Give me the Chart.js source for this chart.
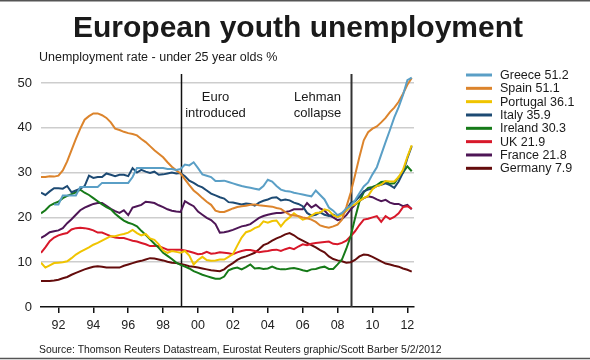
<!DOCTYPE html>
<html>
<head>
<meta charset="utf-8">
<script src="https://cdn.jsdelivr.net/npm/chart.js@4.4.1/dist/chart.umd.min.js"></script>
<style>
  html, body { margin: 0; padding: 0; background: #fff; }
  #wrap { width: 590px; height: 360px; }
</style>
</head>
<body>
<div id="wrap"><canvas id="youthChart" width="590" height="360"></canvas></div>
<script>
// quarterly readings, 1991 Q1 .. 2012 Q2
const quarters = [];
for (let q = 1991; q <= 2012.25; q += 0.25) quarters.push(q);

const countries = ['Greece', 'Spain', 'Portugal', 'Italy', 'Ireland', 'UK', 'France', 'Germany'];
const latest = [51.2, 51.1, 36.1, 35.9, 30.3, 21.9, 21.8, 7.9];

const greece = [
  null, null, null, 22.9,  22.9, 24.9, 24.9, 24.9,  24.9, 26.8, 26.8, 26.8,  26.8, 26.8, 27.7, 27.7,
  27.7, 27.7, 27.7, 27.7,  27.7, 29.0, 31.0, 31.0,  31.0, 31.0, 31.0, 31.0,  31.0, 30.8, 30.8, 30.6,
  30.8, 31.8, 31.6, 32.3,  31.0, 29.6, 29.3, 29.0,  28.1, 28.1, 28.2, 27.9,  27.6, 27.3, 27.0, 26.8,
  26.6, 26.4, 26.2, 27.0,  28.4, 28.0, 27.0, 26.2,  25.9, 25.8, 25.5, 25.3,  25.1, 24.9, 24.7, 26.0,
  25.0, 24.0, 22.2, 21.5,  20.5, 21.0, 22.0, 22.6,  23.8, 25.4, 26.9, 27.8,  29.6, 31.2, 34.0, 36.8,
  39.5, 42.3, 44.6, 47.3,  50.6, 51.2
];
const spain = [
  29.0, 29.0, 29.2, 29.1,  29.3, 30.5, 32.5, 35.0,  37.5, 39.8, 41.8, 42.6,  43.2, 43.2, 42.8, 42.2,
  41.2, 39.8, 39.5, 39.1,  38.8, 38.6, 38.3, 37.5,  36.8, 35.9, 35.0, 34.2,  33.4, 32.3, 31.3, 30.5,
  29.8, 28.5, 27.2, 26.0,  25.2, 24.3, 23.5, 22.8,  21.5, 21.2, 21.2, 21.6,  22.0, 22.3, 22.5, 22.6,
  22.8, 22.9, 22.7, 22.6,  22.5, 22.4, 22.1, 21.9,  21.2, 20.6, 20.4, 20.3,  20.0, 19.8, 19.5, 19.0,
  18.2, 17.9, 17.7, 18.0,  18.4, 19.5, 22.3, 25.5,  29.4, 33.5, 37.2, 39.0,  39.8, 40.3, 41.2, 42.2,
  43.5, 44.5, 45.8, 47.6,  49.6, 51.1
];
const portugal = [
  9.9, 8.8, 9.3, 9.8,  9.9, 10.0, 10.2, 10.9,  11.7, 12.3, 12.8, 13.3,  13.9, 14.3, 14.8, 15.3,
  15.8, 15.8, 16.1, 16.3,  16.6, 17.2, 16.5, 16.0,  16.3, 15.3, 15.0, 14.0,  12.6, 12.1, 12.5, 12.3,
  12.1, 12.5, 11.5, 9.5,  10.5, 11.2, 10.5, 10.3,  10.4, 10.6, 10.6, 11.2,  11.8, 13.7, 15.5, 16.7,
  17.0, 17.6, 18.0, 19.1,  18.8, 19.2, 19.3, 18.0,  19.2, 20.0, 20.9, 20.2,  19.5, 19.8, 20.4, 21.0,
  21.1, 21.8, 21.5, 20.5,  20.1, 20.5, 21.5, 22.5,  22.9, 23.7, 24.3, 24.8,  26.3, 27.0, 27.3, 28.1,
  28.0, 28.0, 29.0, 30.6,  33.5, 36.1
];
const italy = [
  25.5, 25.0, 25.8, 26.5,  26.5, 26.4, 27.0, 25.6,  26.0, 26.4, 27.0, 29.3,  28.8, 29.0, 29.0, 29.8,
  29.5, 29.2, 29.5, 29.5,  29.2, 31.0, 30.0, 30.6,  30.2, 29.9, 30.2, 29.5,  29.6, 29.8, 30.0, 29.8,
  29.9, 29.2, 28.2, 27.7,  27.1, 26.7, 26.0, 25.3,  24.9, 24.5, 24.2, 23.4,  23.3, 23.1, 22.9, 23.1,
  23.0, 22.6, 23.3, 23.7,  24.0, 24.4, 24.5, 23.8,  24.0, 23.8, 23.3, 23.0,  22.5, 21.0, 20.4, 20.6,
  21.1, 20.6, 20.3, 20.6,  20.1, 20.8, 21.6, 23.2,  23.6, 24.6, 25.8, 26.2,  26.5, 27.0, 27.3, 27.6,
  27.2, 26.6, 28.0, 30.0,  33.2, 35.9
];
const ireland = [
  20.9, 21.6, 22.6, 23.1,  23.5, 24.3, 24.8, 25.2,  25.6, 26.2, 25.5, 25.0,  24.3, 23.6, 22.9, 22.3,
  21.8, 20.8, 20.0, 19.3,  18.8, 18.5, 18.0, 17.0,  16.1, 15.1, 14.1, 13.2,  12.1, 11.4, 10.7, 9.9,
  9.4, 9.0, 8.6, 8.0,  7.6, 7.2, 6.9, 6.6,  6.3, 6.3, 6.8, 8.2,  8.6, 8.8, 8.4, 8.9,
  9.5, 8.6, 8.7, 8.5,  8.6, 9.0, 8.6, 8.4,  8.4, 8.6, 8.7, 8.5,  8.2, 8.0, 8.4, 8.5,
  8.8, 9.0, 8.5, 8.5,  9.5, 10.6, 13.0, 15.8,  19.8, 23.5, 25.6, 26.6,  26.8, 27.2, 27.9, 28.0,
  27.5, 27.6, 29.0, 30.0,  31.4, 30.3
];
const uk = [
  12.1, 13.3, 14.7, 15.5,  16.0, 16.3, 16.5, 17.3,  17.6, 17.7, 17.6, 17.4,  17.1, 16.6, 16.6, 16.2,
  15.8, 15.5, 15.4, 15.4,  15.1, 14.8, 14.6, 14.3,  14.0, 13.6, 13.6, 13.6,  13.2, 12.8, 12.8, 12.8,
  12.8, 12.6, 12.4, 12.1,  11.8, 11.9, 12.3, 11.9,  12.0, 12.2, 12.1, 12.0,  11.8, 12.2, 12.5, 12.7,
  12.7, 12.5, 12.2, 12.4,  12.5, 12.7, 12.8, 12.5,  12.9, 13.2, 12.9, 13.5,  14.0, 13.8, 14.1, 14.3,
  14.4, 14.5, 14.6, 14.1,  14.0, 14.3, 14.8, 15.8,  16.9, 18.3, 19.5, 19.7,  20.0, 20.3, 19.0, 20.3,
  19.6, 20.1, 20.9, 22.3,  22.5, 21.9
];
const france = [
  15.4, 16.0, 16.7, 16.9,  17.1, 17.6, 18.7, 19.6,  20.6, 21.6, 22.2, 22.6,  23.0, 23.2, 23.2, 22.6,
  21.9, 21.4, 21.0, 21.6,  20.5, 22.2, 22.5, 22.8,  23.5, 23.4, 23.2, 22.7,  22.3, 21.8, 21.5, 21.3,
  21.2, 23.6, 23.0, 22.5,  21.3, 20.6, 19.9, 19.4,  18.5, 16.6, 16.7, 16.9,  17.2, 17.6, 18.0, 18.2,
  18.5, 19.2, 19.9, 20.3,  20.6, 20.8, 21.0, 21.0,  21.2, 21.4, 21.8, 21.8,  21.8, 23.2, 22.2, 22.8,
  22.0, 21.5, 20.5, 20.0,  19.4, 19.6, 20.5, 21.8,  22.8, 23.7, 24.3, 24.7,  24.5, 24.0, 23.6, 23.9,
  23.3, 23.0, 23.0, 22.5,  22.8, 21.8
];
const germany = [
  5.8, 5.8, 5.8, 5.9,  6.1, 6.4, 6.7, 7.2,  7.6, 8.0, 8.4, 8.7,  9.0, 9.1, 9.0, 8.8,
  8.8, 8.8, 8.8, 9.2,  9.5, 9.8, 10.1, 10.3,  10.6, 10.9, 10.8, 10.6,  10.4, 10.1, 9.9, 9.8,
  9.6, 9.4, 9.1, 9.0,  8.8, 8.6, 8.4, 8.2,  8.1, 8.0, 8.4, 9.2,  9.8, 10.5, 11.0, 11.3,
  11.7, 12.1, 12.9, 13.8,  14.2, 14.8, 15.3, 15.7,  16.2, 16.5, 16.0, 15.3,  14.8, 14.3, 13.8, 13.3,
  12.7, 12.2, 11.3, 10.7,  10.4, 10.2, 9.9, 10.0,  10.5, 11.3, 11.7, 11.6,  11.2, 10.7, 10.2, 9.7,
  9.5, 9.2, 9.0, 8.6,  8.3, 7.9
];

const xTicks = [1992, 1994, 1996, 1998, 2000, 2002, 2004, 2006, 2008, 2010, 2012];
const yTicks = [0, 10, 20, 30, 40, 50];
const events = [
  { year: 1999, text: ['Euro', 'introduced'] },
  { year: 2008.75, text: ['Lehman', 'collapse'] }
];

const allSeries = [greece, spain, portugal, italy, ireland, uk, france, germany];
const colours = ['#5a9fc6', '#dc842c', '#f0c400', '#1d4a73', '#167a18', '#d8182a', '#4e1656', '#640c0c'];
const FONT = "'Liberation Sans', Arial, sans-serif";

// judul, sumber, garis peristiwa dan legenda digambar sendiri
const decorPlugin = {
  id: 'decor',
  beforeDatasetsDraw(chart) {
    const { ctx, chartArea, scales } = chart;
    ctx.save();
    events.forEach((ev, i) => {
      const x = Math.round(scales.x.getPixelForValue(ev.year)) + 0.5;
      ctx.strokeStyle = i === 0 ? '#111' : '#333';
      ctx.lineWidth = i === 0 ? 1.5 : 2;
      ctx.beginPath();
      ctx.moveTo(x, chartArea.top);
      ctx.lineTo(x, chartArea.bottom);
      ctx.stroke();
      ctx.fillStyle = '#1a1a1a';
      ctx.font = '13px ' + FONT;
      ctx.textAlign = 'center';
      ctx.textBaseline = 'middle';
      const cx = i === 0 ? x + 34 : x - 34;
      ev.text.forEach((t, j) => ctx.fillText(t, cx, 97 + j * 16.5));
    });
    ctx.restore();
  },
  afterDraw(chart) {
    const { ctx } = chart;
    ctx.save();
    ctx.fillStyle = '#1a1a1a';
    ctx.textAlign = 'center';
    ctx.textBaseline = 'alphabetic';
    ctx.font = 'bold 30px ' + FONT;
    ctx.fillText('European youth unemployment', 298, 37);

    ctx.textAlign = 'left';
    ctx.font = '12.5px ' + FONT;
    ctx.fillText('Unemployment rate - under 25 year olds %', 39, 61);

    ctx.font = '10.4px ' + FONT;
    ctx.fillText('Source: Thomson Reuters Datastream, Eurostat Reuters graphic/Scott Barber 5/2/2012', 39, 353);

    // legend
    ctx.font = '12.5px ' + FONT;
    ctx.textBaseline = 'middle';
    countries.forEach((name, i) => {
      const y = 75 + i * 13.33;
      ctx.strokeStyle = colours[i];
      ctx.lineWidth = 3;
      ctx.beginPath();
      ctx.moveTo(466, y);
      ctx.lineTo(492, y);
      ctx.stroke();
      ctx.fillText(name + ' ' + latest[i], 500, y + 0.5);
    });

    // frame lines top and bottom
    ctx.strokeStyle = '#555';
    ctx.lineWidth = 1.5;
    ctx.beginPath();
    ctx.moveTo(0, 0.75); ctx.lineTo(590, 0.75);
    ctx.moveTo(0, 358.5); ctx.lineTo(590, 358.5);
    ctx.stroke();
    ctx.restore();
  }
};

const ctx = document.getElementById('youthChart').getContext('2d');
const youthChart = new Chart(ctx, {
  type: 'line',
  data: {
    datasets: allSeries.map((series, i) => ({
      label: countries[i],
      data: quarters.map((q, k) => ({ x: q, y: series[k] })),
      borderColor: colours[i],
      borderWidth: 2,
      pointRadius: 0,
      tension: 0,
      spanGaps: false
    }))
  },
  options: {
    responsive: false,
    animation: false,
    layout: { padding: { left: 0, right: 176, top: 74, bottom: 22 } },
    plugins: {
      legend: { display: false },
      tooltip: { enabled: false }
    },
    scales: {
      x: {
        type: 'linear',
        min: 1991,
        max: 2012.38,
        afterBuildTicks: axis => { axis.ticks = xTicks.map(v => ({ value: v })); },
        afterFit: scale => { scale.height = 31; },
        border: { color: '#111', width: 1.5 },
        grid: { drawOnChartArea: false, drawTicks: true, tickLength: 6, color: '#111', lineWidth: 1.5 },
        ticks: {
          color: '#222',
          padding: 5,
          maxRotation: 0,
          font: { family: FONT, size: 12.5 },
          callback: v => String(v % 100).padStart(2, '0')
        }
      },
      y: {
        min: 0,
        max: 52,
        afterBuildTicks: axis => { axis.ticks = yTicks.map(v => ({ value: v })); },
        afterFit: scale => { scale.width = 41; },
        border: { display: false },
        grid: {
          drawTicks: false,
          lineWidth: 1.5,
          color: c => (c.tick && c.tick.value === 0) ? 'rgba(0,0,0,0)' : '#cdcdcd'
        },
        ticks: { color: '#222', padding: 9, font: { family: FONT, size: 13 } }
      }
    }
  },
  plugins: [decorPlugin]
});
</script>
</body>
</html>
